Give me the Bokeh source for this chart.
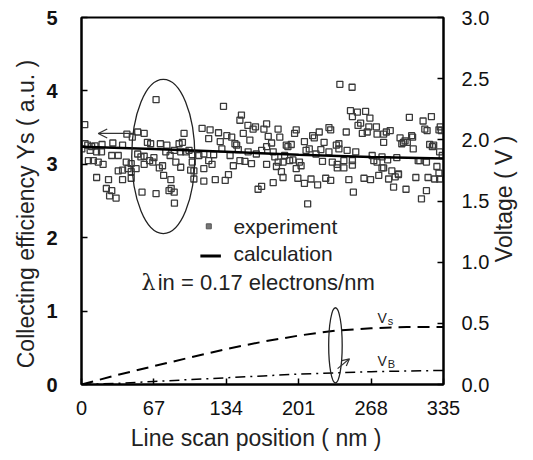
import math
from bokeh.plotting import figure
from bokeh.models import Range1d, LinearAxis, FixedTicker, PrintfTickFormatter, Arrow, OpenHead
from bokeh.core.properties import value
from bokeh.embed import file_html
from bokeh.resources import INLINE

# ---------------- data ----------------
exp_x = [3, 42, 47, 52, 58, 69,
         3.3, 5.8, 9.4, 12.5, 19, 29, 38, 61, 64, 73, 79,
         0.3, 8, 14, 18.5, 28, 34, 52, 55, 58, 63, 67, 78, 82,
         6.4, 11, 15.5, 20, 41.4, 46, 58, 66, 72, 75,
         34, 38, 43, 46, 50.5, 76,
         14, 25, 38, 46,
         23, 28, 56, 69, 26, 32, 81, 86, 83,
         # 81-165
         131.4, 148, 146.6, 154, 158.8, 161, 94.9, 111.6, 119, 126.8,
         134.5, 139, 149.7, 155.8, 117.7, 128.4, 142, 143.6, 93.4, 90.3,
         85.8, 91.8, 96.4, 102.5, 108.6, 113.2, 122.3, 129.9, 137.5, 145.1, 154.2, 161.8,
         99.5, 102.5, 117.7, 120.8, 140.5, 146.6, 151.2, 157.3,
         87.3, 101, 104, 113.2,
         91.8, 104, 113.2, 123.8, 133, 136,
         82.7, 163.4, 85.8,
         # 165-250
         209.3, 239.1, 250.4, 248.9,
         171.3, 181.9, 197.2, 198.7, 220, 229, 230.6, 245,
         168.8, 172.8, 183.5, 213.9, 215.4, 224.5, 206.3,
         175.9, 189.5, 194.1, 238.2, 235.8,
         171.3, 177.4, 188, 191, 207.8, 210.8, 217, 221.5, 229, 238.2, 245.8,
         166.7, 178.9, 182, 192.6, 195.6, 201.7, 223, 232.1, 236.7, 242.8,
         171.3, 180.4, 186.5, 198.7, 203.2, 242.8, 236.7,
         185, 186.5, 212.4, 226, 230.6, 247.4,
         200.2, 206.3, 218.5, 177.4, 166.7,
         # 250-335
         251.6, 262.9, 255.3, 266.9, 250.7, 258.3, 265.9, 255.9, 259.9,
         273.5, 279.6, 282.1, 285.7, 272.9, 264.4, 279.6,
         301.5, 316.1, 323.8, 303.4, 317.7, 319.8, 330.8, 332, 332.9,
         294.8, 297.9, 299.4, 296.4, 307, 306.4, 305.5, 322.2, 325.9, 324.7, 331.4, 333.8,
         250.7, 253.8, 270.5, 278.1, 283.3, 291.8, 311.6, 313.1, 319.2,
         269, 279.6, 287.2, 278.1, 293.3, 293.3, 290.3, 284.2, 326.8, 328.9, 330.8,
         250.7, 261.4, 267.5, 275.1, 309.4, 320.7, 331.4,
         273.5, 288.8, 319.2, 300.3, 314.6]

exp_y = [3.54, 3.41, 3.37, 3.44, 3.42, 3.88,
         3.28, 3.26, 3.24, 3.25, 3.27, 3.29, 3.26, 3.30, 3.28, 3.28, 3.26,
         3.21, 3.19, 3.17, 3.17, 3.12, 3.12, 3.14, 3.10, 3.11, 3.05, 3.09, 3.17, 3.12,
         3.05, 3.05, 3.03, 3.00, 3.03, 3.01, 3.00, 3.03, 2.95, 2.98,
         2.91, 2.92, 2.94, 2.90, 2.94, 2.85,
         2.82, 2.79, 2.79, 2.81,
         2.67, 2.64, 2.62, 2.60, 2.57, 2.54, 2.64, 2.47, 2.67,
         3.79, 3.67, 3.60, 3.53, 3.48, 3.51, 3.42, 3.49, 3.47, 3.43,
         3.39, 3.37, 3.42, 3.33, 3.35, 3.31, 3.28, 3.26, 3.30, 3.28,
         3.19, 3.17, 3.17, 3.13, 3.12, 3.14, 3.13, 3.21, 3.12, 3.20, 3.17, 3.14, 3.19,
         3.03, 3.05, 3.00, 2.98, 3.05, 3.04, 3.01, 3.03,
         2.92, 2.91, 2.94, 2.96,
         2.80, 2.77, 2.79, 2.78, 2.86, 2.79,
         2.66, 2.62, 2.46,
         4.09, 4.05, 3.73, 3.55,
         3.48, 3.42, 3.47, 3.44, 3.50, 3.47, 3.44, 3.48,
         3.38, 3.37, 3.39, 3.36, 3.30, 3.31, 3.29,
         3.26, 3.27, 3.28, 3.26, 3.24,
         3.17, 3.12, 3.24, 3.19, 3.21, 3.14, 3.20, 3.17, 3.21, 3.19, 3.19,
         3.10, 3.03, 3.05, 3.06, 3.03, 3.04, 3.03, 3.00, 3.05, 3.00,
         2.97, 3.03, 2.94, 2.98, 2.95, 2.95, 2.90,
         2.82, 2.80, 2.81, 2.78, 2.79, 2.81,
         2.74, 2.72, 2.75, 2.70, 2.62,
         3.72, 3.71, 3.63, 3.65, 3.56, 3.51, 3.53, 3.42, 3.41,
         3.41, 3.44, 3.46, 3.51, 3.44, 3.30, 3.30,
         3.59, 3.65, 3.64, 3.48, 3.46, 3.47, 3.51, 3.46, 3.36,
         3.30, 3.32, 3.28, 3.21, 3.37, 3.39, 3.27, 3.26, 3.24, 3.17, 3.12, 3.05,
         3.17, 3.05, 3.10, 3.06, 3.09, 3.05, 3.05, 3.03, 3.12,
         2.95, 2.91, 2.95, 2.86, 2.87, 2.83, 2.80, 2.80, 2.97, 2.88, 2.99,
         2.81, 2.79, 2.85, 2.82, 2.82, 2.80, 3.03,
         2.69, 2.64, 2.66, 2.53, 2.44]

calc_x = [0, 67, 134, 201, 268, 335]
calc_y = [3.24, 3.21, 3.17, 3.13, 3.10, 3.08]

volt_x = [0, 34, 67, 100, 134, 168, 201, 235, 268, 301, 335]
vs_y = [0.0, 0.08, 0.15, 0.22, 0.29, 0.35, 0.40, 0.44, 0.46, 0.47, 0.47]
vb_y = [0.0, 0.01, 0.025, 0.04, 0.055, 0.07, 0.085, 0.095, 0.105, 0.11, 0.115]

x_ticks = [0, 67, 134, 201, 268, 335]
y_ticks = [0, 1, 2, 3, 4, 5]
v_ticks = [0.0, 0.5, 1.0, 1.5, 2.0, 2.5, 3.0]
v_title = "Voltage  ( V )"

FONT = "Liberation Sans"
INK = "#222222"
NB = "\u00a0"

p = figure(width=533, height=460, output_backend="svg", toolbar_location=None,
           x_range=Range1d(0, 335), y_range=Range1d(0, 5),
           min_border_left=81, min_border_right=85, min_border_top=17, min_border_bottom=76,
           y_axis_label="Collecting efficiency Ys ( a.u. )" + NB * 4,
           x_axis_label="Line scan position ( nm )" + NB * 2)
p.extra_y_ranges = {"v": Range1d(0, 3)}
p.grid.visible = False
p.outline_line_color = "black"
p.outline_line_width = 2
p.background_fill_color = "white"
p.border_fill_color = "white"

vax = LinearAxis(y_range_name="v")
p.add_layout(vax, "right")

p.xaxis.ticker = FixedTicker(ticks=x_ticks)
p.yaxis[0].ticker = FixedTicker(ticks=y_ticks)
vax.ticker = FixedTicker(ticks=v_ticks)
vax.formatter = PrintfTickFormatter(format="%.1f")

for ax in [p.xaxis[0], p.yaxis[0], vax]:
    ax.axis_line_width = 2
    ax.axis_line_color = "black"
    ax.major_tick_in = 6
    ax.major_tick_out = 0
    ax.major_tick_line_width = 1.5
    ax.minor_tick_line_color = None
    ax.major_label_text_font = FONT
    ax.major_label_text_font_size = "20px"
    ax.major_label_text_color = "#111111"
    ax.axis_label_text_font = FONT
    ax.axis_label_text_font_size = "23px"
    ax.axis_label_text_font_style = "normal"
    ax.axis_label_text_color = INK

p.yaxis[0].major_label_text_font_style = "bold"
p.yaxis[0].major_label_standoff = 24
p.yaxis[0].axis_label_standoff = 4
p.xaxis[0].major_label_standoff = 16
p.xaxis[0].axis_label_standoff = 7
vax.major_label_standoff = 18

# right-hand title, reading bottom to top, drawn as the single label of a bare axis
tax = LinearAxis(y_range_name="v", ticker=FixedTicker(ticks=[1]),
                 major_label_overrides={1: v_title},
                 major_label_orientation=math.pi / 2,
                 axis_line_color=None, major_tick_line_color=None,
                 minor_tick_line_color=None, major_tick_in=0, major_tick_out=0,
                 major_label_standoff=12, major_label_text_font=FONT,
                 major_label_text_font_size="23px", major_label_text_color=INK)
p.add_layout(tax, "right")

# experiment points
p.scatter(exp_x, exp_y, marker="square", size=6, fill_color=None,
          line_color="#3a3a3a", line_width=1.3)
# calculation
p.line(calc_x, calc_y, line_color="black", line_width=2.5)
# voltages
p.line(volt_x, vs_y, y_range_name="v", line_color="black", line_width=2, line_dash="12 7")
p.line(volt_x, vb_y, y_range_name="v", line_color="black", line_width=1.5, line_dash="10 5 2 5")

# annotations: ellipses and arrows
p.ellipse(x=[75.7], y=[3.106], width=[58.4], height=[2.10], fill_color=None,
          line_color=INK, line_width=1.3)
p.add_layout(Arrow(end=OpenHead(size=9, line_width=1.3, line_color="#333333"),
                   x_start=47.5, y_start=3.42, x_end=15.5, y_end=3.42,
                   line_width=1.3, line_color="#333333"))
p.ellipse(x=[235], y=[0.32], width=[12.5], height=[0.615], y_range_name="v",
          fill_color=None, line_color=INK, line_width=1.3)
p.add_layout(Arrow(end=OpenHead(size=7, line_width=1.2, line_color="#333333"),
                   x_start=237, y_start=0.13, x_end=248, y_end=0.21,
                   y_range_name="v", line_width=1.2, line_color="#333333"))

# V labels
p.text([274], [0.545], text=["V"], y_range_name="v", text_font=value(FONT),
       text_font_size="14px", text_baseline="middle", text_color=INK)
p.text([283.5], [0.52], text=["s"], y_range_name="v", text_font=value(FONT),
       text_font_size="11px", text_baseline="middle", text_color=INK)
p.text([274], [0.19], text=["V"], y_range_name="v", text_font=value(FONT),
       text_font_size="14px", text_baseline="middle", text_color=INK)
p.text([283.5], [0.165], text=["B"], y_range_name="v", text_font=value(FONT),
       text_font_size="11px", text_baseline="middle", text_color=INK)

# legend
p.scatter([117.8], [2.155], marker="square", size=5, fill_color="#777777",
          line_color="#555555", line_width=1)
p.text([140.6], [2.155], text=["experiment"], text_font=value(FONT),
       text_font_size="21px", text_baseline="middle", text_color=INK)
p.segment(x0=[110], y0=[1.75], x1=[129], y1=[1.75], line_color="black", line_width=3)
p.text([140.6], [1.79], text=["calculation"], text_font=value(FONT),
       text_font_size="21px", text_baseline="middle", text_color=INK)
p.text([55.5], [1.39], text=["λ"], text_font=value("DejaVu Serif"),
       text_font_size="22px", text_baseline="middle", text_color=INK)
p.text([70.5], [1.39], text=["in = 0.17 electrons/nm"], text_font=value(FONT),
       text_font_size="22px", text_baseline="middle", text_color=INK)

open("out.html", "w").write(file_html(p, INLINE))
